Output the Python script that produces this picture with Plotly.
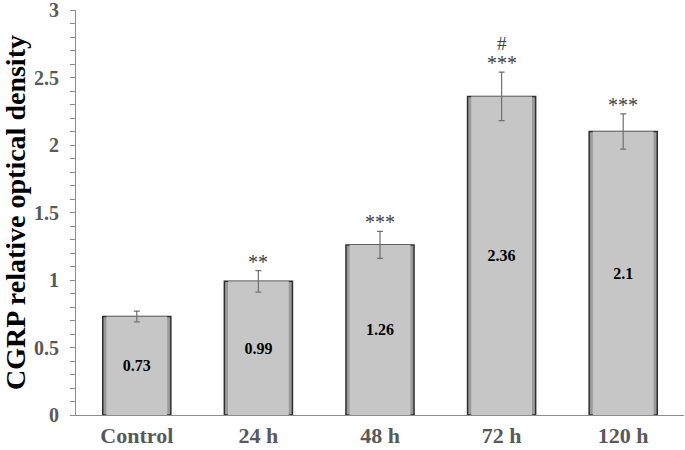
import plotly.graph_objects as go

categories = ["Control", "24 h", "48 h", "72 h", "120 h"]
values = [0.73, 0.99, 1.26, 2.36, 2.10]
errors = [0.04, 0.08, 0.10, 0.18, 0.13]
value_labels = ["0.73", "0.99", "1.26", "2.36", "2.1"]
stars = ["", "**", "***", "***", "***"]
hashes = ["", "", "", "#", ""]

fig = go.Figure()

# outer bar (bevel frame)
fig.add_trace(go.Bar(
    x=categories, y=values, width=0.56,
    marker=dict(color="#9a9a9a", line=dict(color="#2e2e2e", width=1.5)),
    hoverinfo="skip", showlegend=False,
))
# inner bar face with labels and error bars
fig.add_trace(go.Bar(
    x=categories, y=values, width=0.5,
    marker=dict(color="#c6c6c6", line=dict(width=0)),
    text=value_labels, textposition="inside", insidetextanchor="middle",
    textangle=0,
    textfont=dict(family="Liberation Serif", size=16, color="#000000", weight="bold"),
    error_y=dict(type="data", array=errors, visible=True,
                 color="#707070", thickness=1.2, width=3),
    showlegend=False,
))

for cat, v, e, s, h in zip(categories, values, errors, stars, hashes):
    if s:
        fig.add_annotation(
            x=cat, y=v + e, text=s, showarrow=False,
            yanchor="bottom", yshift=-4,
            font=dict(family="Liberation Serif", size=20, color="#404040"),
        )
    if h:
        fig.add_annotation(
            x=cat, y=v + e, text=h, showarrow=False,
            yanchor="bottom", yshift=16,
            font=dict(family="Liberation Serif", size=19, color="#404040"),
        )

fig.update_layout(
    width=685, height=450,
    margin=dict(l=76, r=1, t=10, b=35),
    barmode="overlay",
    plot_bgcolor="white", paper_bgcolor="white",
    font=dict(family="Liberation Serif"),
)
fig.update_xaxes(
    automargin=False,
    showline=True, linecolor="#8c8c8c", linewidth=1.2,
    ticks="", showgrid=False,
    tickfont=dict(family="Liberation Serif", size=22, color="#595959", weight="bold"),
)
fig.update_yaxes(
    automargin=False,
    range=[0, 3], dtick=0.5, tickformat="",
    ticklabeloverflow="allow", ticklabelstandoff=7,
    showline=True, linecolor="#8c8c8c", linewidth=1.2,
    ticks="outside", ticklen=5, tickcolor="#8c8c8c",
    minor=dict(dtick=0.1, ticks="outside", ticklen=5, tickcolor="#8c8c8c"),
    showgrid=False, zeroline=False,
    tickfont=dict(family="Liberation Serif", size=20, color="#595959", weight="bold"),
    title=dict(text="CGRP relative optical density",
               font=dict(family="Liberation Serif", size=28, color="#000000", weight="bold"),
               standoff=13),
)

fig.write_html("out.html", config={"displayModeBar": False},
               post_script="document.body.style.margin='0';")
